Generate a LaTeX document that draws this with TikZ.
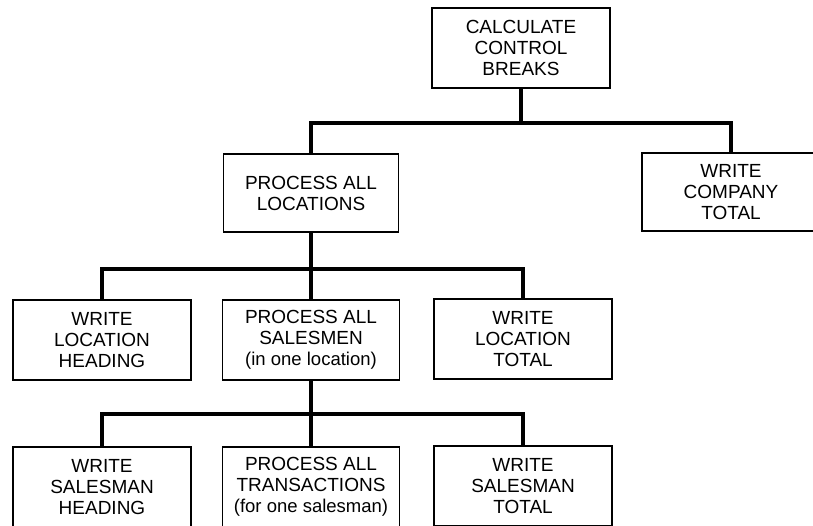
\documentclass[tikz,border=0pt]{standalone}
\usepackage{fontspec}
\setmainfont{Liberation Sans}
\begin{document}
\begin{tikzpicture}[x=1pt,y=-1pt,
  module/.style={draw, line width=1.7pt, rectangle, minimum width=178pt,
    minimum height=80pt, inner sep=0pt, align=center,
    font=\fontsize{19}{21}\selectfont},
  link/.style={line width=3.3pt, line join=miter}]
\newcommand\remark[1]{{\fontsize{18.5}{21}\selectfont #1}}
\useasboundingbox (0,0) rectangle (813,525);
\clip (0,0) rectangle (813,525);

% modules of the control-break program
\node[module] (calc) at (521,48)  {CALCULATE\\CONTROL\\BREAKS};
\node[module, minimum width=175pt, minimum height=78pt] (pal) at (311,193) {PROCESS ALL\\LOCATIONS};
\node[module, minimum height=78pt] (wct) at (731,192) {WRITE\\COMPANY\\TOTAL};

\node[module] (wlh) at (102,340) {WRITE\\LOCATION\\HEADING};
\node[module, minimum width=177pt] (pas) at (311,340) {PROCESS ALL\\SALESMEN\\\remark{(in one location)}};
\node[module] (wlt) at (523,339) {WRITE\\LOCATION\\TOTAL};

\node[module] (wsh) at (102,487) {WRITE\\SALESMAN\\HEADING};
\node[module, minimum width=177pt] (pat) at (311,487) {PROCESS ALL\\TRANSACTIONS\\\remark{(for one salesman)}};
\node[module] (wst) at (523,486) {WRITE\\SALESMAN\\TOTAL};

% junction points on the horizontal buses
\coordinate (b1) at (521,123);
\coordinate (b2) at (311,269);
\coordinate (b3) at (311,414);

% hierarchy connectors
\draw[link] (calc.south) -- (b1);
\draw[link] (pal.north) |- (b1) -| (wct.north);

\draw[link] (pal.south) -- (pas.north);
\draw[link] (wlh.north) |- (b2) -| (wlt.north);

\draw[link] (pas.south) -- (pat.north);
\draw[link] (wsh.north) |- (b3) -| (wst.north);
\end{tikzpicture}
\end{document}
